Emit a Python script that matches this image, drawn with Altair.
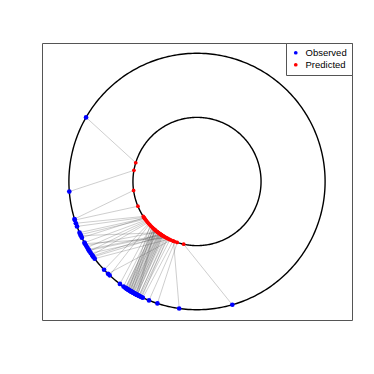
import altair as alt
import pandas as pd
import numpy as np

# angles in degrees (observed on outer circle r=1, predicted on inner circle r=0.5)
observed_deg = [150, 184.5, 197, 197.5, 199, 200.5, 203.5, 204.5, 206, 208.5,
                210, 211, 212, 213, 214, 215, 216, 217, 223.5, 226,
                227, 233, 235, 236, 236.5, 237, 237.5, 238, 238.5, 239,
                239.5, 240, 240.5, 241, 241.5, 242, 242.5, 243, 243.5, 244,
                245, 248, 252, 262, 286,
                236.2, 237.2, 238.2, 239.2, 240.2, 241.2, 242.2, 243.2, 244.5, 239.8,
                238.8, 237.8, 241.8, 205, 209, 212.5, 215.5]
predicted_deg = [163, 170, 188, 202.7, 213, 214, 215, 216, 214.5, 217,
                 232, 218, 236, 219, 240, 220, 238, 244, 221, 246,
                 222, 224, 226, 228, 229, 230, 231, 232, 233, 234,
                 234.5, 235, 236, 237, 238, 239, 229, 241, 243, 245,
                 248, 250, 252, 248.5, 258,
                 227.5, 229.5, 231.5, 233.5, 235.5, 236.5, 237.5, 240, 242, 226.5,
                 225, 223, 228.5, 233, 242, 237, 235]
outer_r = 1.0
inner_r = 0.5
series = ["Observed", "Predicted"]
series_colors = ["#0000FF", "#FF0000"]

ob = np.radians(observed_deg)
pr = np.radians(predicted_deg)
pairs = pd.DataFrame({
    "ox": outer_r * np.cos(ob), "oy": outer_r * np.sin(ob),
    "px": inner_r * np.cos(pr), "py": inner_r * np.sin(pr),
})
obs = pd.DataFrame({"x": pairs.ox, "y": pairs.oy, "type": "Observed"})
pred = pd.DataFrame({"x": pairs.px, "y": pairs.py, "type": "Predicted"})

# reference circles (geometry, not data)
t = np.linspace(0, 2 * np.pi, 361)
circ = pd.concat([
    pd.DataFrame({"x": r * np.cos(t), "y": r * np.sin(t), "i": np.arange(len(t)), "c": name})
    for r, name in ((outer_r, "outer"), (inner_r, "inner"))
])

W, H = 310, 277
xdom = [-1.21, 1.21]
ydom = [-1.08, 1.08]

xs = alt.Scale(domain=xdom, nice=False, zero=False)
ys = alt.Scale(domain=ydom, nice=False, zero=False)

circles = alt.Chart(circ).mark_line(color="black", strokeWidth=1.4).encode(
    x=alt.X("x:Q", scale=xs, axis=None), y=alt.Y("y:Q", scale=ys, axis=None),
    detail="c:N", order="i:Q")

links = alt.Chart(pairs).mark_rule(color="#505050", strokeWidth=0.7, opacity=0.4).encode(
    x=alt.X("ox:Q", scale=xs, axis=None), y=alt.Y("oy:Q", scale=ys, axis=None),
    x2="px:Q", y2="py:Q")

color = alt.Color("type:N", scale=alt.Scale(domain=series, range=series_colors),
                  legend=alt.Legend(title=None, orient="top-right", offset=0,
                                    strokeColor="#555555", fillColor="white",
                                    padding=5, symbolType="circle", symbolSize=14,
                                    labelFontSize=9.5, labelFont="Liberation Sans",
                                    rowPadding=1, labelOffset=5, symbolStrokeWidth=0,
                                    cornerRadius=0))

obs_pts = alt.Chart(obs).mark_circle(size=22, opacity=1).encode(
    x=alt.X("x:Q", scale=xs, axis=None), y=alt.Y("y:Q", scale=ys, axis=None), color=color)
pred_pts = alt.Chart(pred).mark_circle(size=14, opacity=1).encode(
    x=alt.X("x:Q", scale=xs, axis=None), y=alt.Y("y:Q", scale=ys, axis=None), color=color)

chart = alt.layer(circles, links, obs_pts, pred_pts).properties(
    width=W, height=H,
    padding={"left": 34, "top": 34, "right": 8, "bottom": 8},
).configure_view(stroke="#555555", strokeWidth=1)

chart.save("out.html", embed_options={"renderer": "svg", "actions": False})
